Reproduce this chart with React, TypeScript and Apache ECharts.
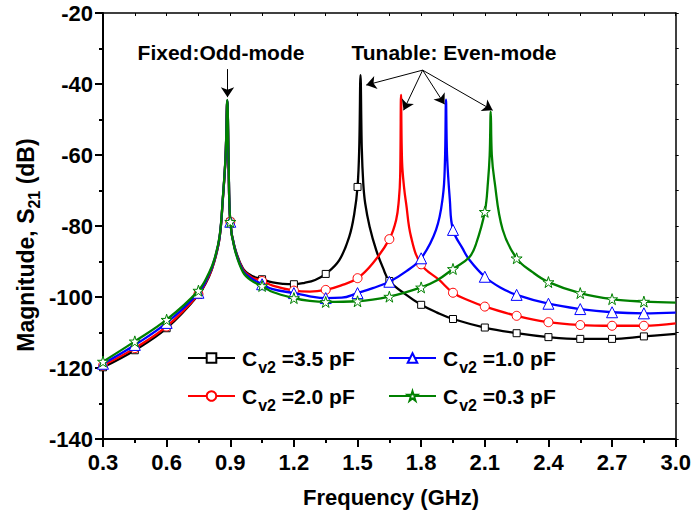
import React, { useEffect, useRef } from 'react';
import * as echarts from 'echarts';

const FF = '"Liberation Sans", Arial, Helvetica, sans-serif';

// Cv2 = 3.5 pF (black)
const freq35 = [0.3, 0.45, 0.6, 0.75, 0.8, 0.826, 0.85, 0.865, 0.878, 0.886, 0.892, 0.9, 0.92, 0.96, 1.0, 1.05, 1.1, 1.15, 1.2, 1.25, 1.3, 1.35, 1.414, 1.461, 1.485, 1.5, 1.508, 1.514, 1.52, 1.527, 1.536, 1.557, 1.588, 1.62, 1.65, 1.73, 1.8, 1.875, 1.95, 2.1, 2.25, 2.4, 2.55, 2.7, 2.85, 3.0];
const mag35 = [-119.8, -115.0, -108.8, -99.4, -94.2, -89.8, -83.2, -72.5, -60.5, -44.8, -62.0, -78.8, -85.8, -92.0, -94.0, -95.0, -95.9, -96.3, -96.4, -96.0, -95.2, -93.5, -89.6, -83.0, -76.4, -69.0, -58.0, -37.5, -58.0, -68.0, -73.6, -80.2, -86.8, -91.8, -95.5, -99.4, -102.2, -104.4, -106.2, -108.6, -110.2, -111.3, -111.8, -111.8, -111.1, -110.4];

// Cv2 = 2.0 pF (red)
const freq20 = [0.3, 0.45, 0.6, 0.75, 0.8, 0.826, 0.85, 0.865, 0.878, 0.886, 0.892, 0.9, 0.92, 0.96, 1.0, 1.05, 1.1, 1.2, 1.275, 1.35, 1.42, 1.5, 1.572, 1.65, 1.682, 1.695, 1.701, 1.705, 1.71, 1.72, 1.729, 1.752, 1.8, 1.885, 1.95, 2.025, 2.1, 2.25, 2.4, 2.55, 2.7, 2.85, 3.0];
const mag20 = [-119.3, -114.4, -108.3, -99.2, -94.0, -89.7, -83.1, -72.4, -60.4, -44.8, -62.0, -78.8, -86.0, -92.3, -94.4, -95.5, -96.8, -98.2, -98.5, -98.0, -96.8, -94.7, -90.5, -83.7, -78.3, -72.5, -66.0, -43.1, -62.0, -69.5, -73.6, -83.0, -90.8, -95.2, -98.8, -101.0, -102.7, -105.3, -107.1, -107.9, -108.1, -108.1, -107.4];

// Cv2 = 1.0 pF (blue)
const freq10 = [0.3, 0.45, 0.6, 0.75, 0.8, 0.826, 0.85, 0.865, 0.878, 0.886, 0.892, 0.9, 0.92, 0.96, 1.0, 1.05, 1.1, 1.2, 1.275, 1.35, 1.425, 1.5, 1.572, 1.65, 1.729, 1.8, 1.87, 1.902, 1.912, 1.917, 1.922, 1.935, 1.95, 1.995, 2.027, 2.1, 2.175, 2.25, 2.4, 2.55, 2.7, 2.85, 3.0];
const mag10 = [-118.8, -113.5, -107.3, -98.8, -93.6, -89.4, -82.9, -72.2, -60.2, -44.6, -61.5, -78.8, -86.1, -92.6, -94.8, -96.4, -97.8, -98.9, -99.8, -100.3, -100.2, -98.9, -97.5, -95.7, -92.8, -89.1, -81.1, -71.8, -62.0, -44.4, -60.0, -72.5, -81.1, -86.3, -89.5, -94.3, -97.4, -99.4, -101.9, -103.4, -104.3, -104.6, -104.4];

// Cv2 = 0.3 pF (green)
const freq03 = [0.3, 0.45, 0.6, 0.75, 0.8, 0.826, 0.85, 0.865, 0.878, 0.886, 0.892, 0.9, 0.92, 0.96, 1.0, 1.05, 1.1, 1.2, 1.275, 1.35, 1.5, 1.65, 1.8, 1.875, 1.95, 2.027, 2.059, 2.1, 2.115, 2.123, 2.128, 2.133, 2.145, 2.184, 2.25, 2.325, 2.4, 2.55, 2.7, 2.85, 3.0];
const mag03 = [-118.2, -112.5, -106.4, -98.2, -93.2, -89.2, -82.7, -72.0, -60.0, -44.5, -61.0, -78.8, -86.3, -93.0, -95.4, -96.9, -98.6, -100.3, -101.1, -101.4, -101.2, -99.9, -97.3, -95.3, -92.1, -88.8, -85.0, -76.0, -67.5, -60.0, -47.8, -60.0, -67.0, -81.0, -89.1, -93.0, -95.8, -98.9, -100.6, -101.3, -101.6];

// frequencies carrying a marker symbol
const markerFreqs = [0.3, 0.45, 0.6, 0.75, 0.9, 1.05, 1.2, 1.35, 1.5, 1.65, 1.8, 1.95, 2.1, 2.25, 2.4, 2.55, 2.7, 2.85];

const seriesNames = ['C35', 'C20', 'C10', 'C03'];
const capValues = ['3.5', '2.0', '1.0', '0.3'];
const seriesColors = ['#000000', '#ff0000', '#0000ff', '#008000'];
const STAR = 'path://M50,2 L61.2,36.5 L97.6,36.5 L68.2,57.9 L79.4,92.4 L50,71.1 L20.6,92.4 L31.8,57.9 L2.4,36.5 L38.8,36.5 Z';
const seriesSymbols = ['rect', 'circle', 'triangle', STAR];
const symbolSizes = [7, 9, 11, 11];

// annotation arrows in data coordinates [from, to]
const oddArrow = [[0.887, -35.8], [0.887, -43.7]];
const evenApex = [1.807, -36.1];
const evenTips = [[1.541, -40.3], [1.717, -47.4], [1.91, -45.7], [2.137, -47.4]];

const xMin = 0.3, xMax = 3.0, xStep = 0.3;
const yMin = -140, yMax = -20, yStep = 20;

function buildData(freq: number[], mag: number[]) {
  return freq.map((f, i) => {
    const isMarker = markerFreqs.some((m) => Math.abs(m - f) < 1e-9);
    return isMarker ? { value: [f, mag[i]] } : { value: [f, mag[i]], symbol: 'none' };
  });
}

const allFreq = [freq35, freq20, freq10, freq03];
const allMag = [mag35, mag20, mag10, mag03];

const legendRich = {
  c: { fontSize: 21, fontWeight: 'bold', fontFamily: FF, color: '#000', padding: [0, 0, 0, 2] },
  s: { fontSize: 16, fontWeight: 'bold', fontFamily: FF, color: '#000', padding: [18, 0, 0, 1], lineHeight: 16 },
  t: { fontSize: 21, fontWeight: 'bold', fontFamily: FF, color: '#000' },
};

export default function App() {
  const ref = useRef<HTMLDivElement>(null);
  useEffect(() => {
    document.body.style.margin = '0';
    const chart = echarts.init(ref.current!, null, { renderer: 'svg' });
    const labelMap: Record<string, string> = {};
    seriesNames.forEach((n, i) => (labelMap[n] = capValues[i]));

    const series: any[] = seriesNames.map((name, i) => ({
      name,
      type: 'line',
      data: buildData(allFreq[i], allMag[i]),
      smooth: 0.4,
      showSymbol: true,
      symbol: seriesSymbols[i],
      symbolSize: symbolSizes[i],
      lineStyle: { color: seriesColors[i], width: 2.3 },
      itemStyle: { color: '#ffffff', borderColor: seriesColors[i], borderWidth: 1 },
      emphasis: { disabled: true },
      z: 2 + i,
    }));

    series[3].markLine = {
      silent: true,
      symbol: ['none', 'arrow'],
      symbolSize: 10,
      label: { show: false },
      lineStyle: { color: '#000', width: 1, type: 'solid' },
      data: [
        [{ coord: oddArrow[0] }, { coord: oddArrow[1] }],
        ...evenTips.map((t) => [{ coord: evenApex }, { coord: t }]),
      ],
    };

    const legendBase = {
      orient: 'vertical',
      padding: 0,
      itemWidth: 47,
      itemHeight: 12,
      itemGap: 4,
      selectedMode: false,
      formatter: (n: string) => `{c|C}{s|v2}{t| =${labelMap[n]} pF}`,
      textStyle: { rich: legendRich },
    };

    chart.setOption({
      animation: false,
      backgroundColor: '#ffffff',
      grid: { left: 103, right: 17, top: 13, bottom: 83 },
      legend: [
        { ...legendBase, data: [seriesNames[0], seriesNames[1]], left: 187, top: 341 },
        { ...legendBase, data: [seriesNames[2], seriesNames[3]], left: 388, top: 341 },
      ],
      xAxis: [
        {
          type: 'value', min: xMin, max: xMax, interval: xStep, position: 'bottom',
          axisLine: { onZero: false, lineStyle: { color: '#000', width: 2 } },
          axisTick: { inside: false, length: 8, lineStyle: { color: '#000', width: 2 } },
          minorTick: { show: true, splitNumber: 2, length: 4, lineStyle: { color: '#000', width: 2 } },
          axisLabel: { formatter: (v: number) => v.toFixed(1), color: '#000', fontSize: 22, fontWeight: 'bold', fontFamily: FF, margin: 12 },
          splitLine: { show: false },
        },
        {
          type: 'value', min: xMin, max: xMax, interval: xStep / 2, position: 'top',
          axisLine: { onZero: false, lineStyle: { color: '#000', width: 1.5 } },
          axisTick: { inside: true, length: 3, lineStyle: { color: '#000', width: 1 } },
          axisLabel: { show: false },
          splitLine: { show: false },
        },
      ],
      yAxis: [
        {
          type: 'value', min: yMin, max: yMax, interval: yStep, position: 'left',
          axisLine: { onZero: false, lineStyle: { color: '#000', width: 2 } },
          axisTick: { inside: false, length: 8, lineStyle: { color: '#000', width: 2 } },
          minorTick: { show: true, splitNumber: 2, length: 4, lineStyle: { color: '#000', width: 2 } },
          axisLabel: { color: '#000', fontSize: 22, fontWeight: 'bold', fontFamily: FF, margin: 10 },
          splitLine: { show: false },
        },
        {
          type: 'value', min: yMin, max: yMax, interval: yStep / 2, position: 'right',
          axisLine: { onZero: false, lineStyle: { color: '#000', width: 1.5 } },
          axisTick: { inside: false, length: 3, lineStyle: { color: '#000', width: 1 } },
          axisLabel: { show: false },
          splitLine: { show: false },
        },
      ],
      graphic: [
        {
          type: 'text', x: 221, y: 52,
          style: { text: 'Fixed:Odd-mode', fontSize: 21, fontWeight: 'bold', fontFamily: FF, fill: '#000', align: 'center', verticalAlign: 'middle' },
        },
        {
          type: 'text', x: 454, y: 52,
          style: { text: 'Tunable: Even-mode', fontSize: 21, fontWeight: 'bold', fontFamily: FF, fill: '#000', align: 'center', verticalAlign: 'middle' },
        },
        {
          type: 'text', x: 391, y: 497,
          style: { text: 'Frequency (GHz)', fontSize: 22, fontWeight: 'bold', fontFamily: FF, fill: '#000', align: 'center', verticalAlign: 'middle' },
        },
        {
          type: 'text', x: 26, y: 245, rotation: Math.PI / 2,
          style: {
            text: '{m|Magnitude, S}{s|21}{m| (dB)}',
            align: 'center', verticalAlign: 'middle',
            rich: {
              m: { fontSize: 23, fontWeight: 'bold', fontFamily: FF, fill: '#000', color: '#000' },
              s: { fontSize: 16, fontWeight: 'bold', fontFamily: FF, fill: '#000', color: '#000', padding: [16, 0, 0, 0], lineHeight: 16 },
            },
          },
        },
      ],
      series,
    });
    return () => chart.dispose();
  }, []);
  return <div ref={ref} style={{ width: 694, height: 522 }} />;
}
